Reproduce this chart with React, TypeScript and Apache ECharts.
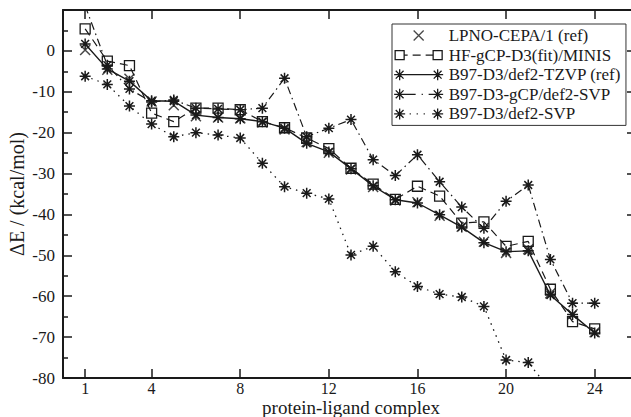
import React, { useEffect, useRef } from "react";
import * as echarts from "echarts";

const complexes = [1, 2, 3, 4, 5, 6, 7, 8, 9, 10, 11, 12, 13, 14, 15, 16, 17, 18, 19, 20, 21, 22, 23, 24];
const xTicks = [1, 4, 8, 12, 16, 20, 24];
const seriesNames = [
  "LPNO-CEPA/1 (ref)",
  "HF-gCP-D3(fit)/MINIS",
  "B97-D3/def2-TZVP (ref)",
  "B97-D3-gCP/def2-SVP",
  "B97-D3/def2-SVP",
];
const lpno = [0.2, -4.6, -6.8, -12.4, -13.3, -16.0, -16.3, -16.5, -17.5, -19.2, -22.3, -24.9, -29.0, -33.3, -36.6, -37.0, -40.3, -43.0, -46.7, -49.4, -48.5, -59.3, -64.4, -68.8];
const hfMinis = [5.4, -2.5, -3.6, -15.2, -17.3, -14.0, -14.0, -14.4, -17.3, -18.8, -21.3, -23.9, -28.7, -32.6, -36.3, -33.1, -35.5, -42.1, -41.8, -47.8, -46.6, -58.3, -66.2, -68.0];
const b97Tzvp = [1.7, -4.4, -7.4, -12.2, -12.3, -15.7, -16.3, -16.6, -17.3, -18.9, -22.6, -24.7, -28.8, -33.0, -36.4, -37.2, -40.1, -43.1, -46.9, -49.1, -48.9, -59.7, -64.5, -69.0];
const b97GcpSvp = [11.0, -3.5, -9.3, -12.5, -12.0, -14.0, -14.2, -14.4, -14.0, -6.7, -21.0, -18.9, -16.8, -26.6, -30.5, -25.4, -32.0, -38.2, -43.4, -36.8, -32.8, -51.0, -61.7, -61.7];
const b97Svp = [-6.2, -8.2, -13.5, -17.9, -21.0, -20.0, -20.6, -21.3, -27.5, -33.2, -34.8, -36.2, -49.9, -47.8, -54.0, -57.6, -59.5, -60.2, -62.5, -75.6, -76.2, -83.0, null, null];

const INK = "#1a1a1a";
const FONT = "'Liberation Serif', 'Times New Roman', serif";

const STAR = "path://M6,0L6,12M0,6L12,6M1.76,1.76L10.24,10.24M10.24,1.76L1.76,10.24";
const CROSS = "path://M0,0L10,10M10,0L0,10";
const SQUARE = "path://M0,0L10,0L10,10L0,10Z";

const star = (cx: number) =>
  `M${cx},0.5L${cx},11.5M${cx - 5.5},6L${cx + 5.5},6M${cx - 3.9},2.1L${cx + 3.9},9.9M${cx + 3.9},2.1L${cx - 3.9},9.9`;
const sq = (cx: number) => `M${cx - 4.5},1.5L${cx + 4.5},1.5L${cx + 4.5},10.5L${cx - 4.5},10.5Z`;
const BOX = "M0,0M50,12";

const legendIcons = [
  `path://${BOX}M20,1L30,11M30,1L20,11`,
  `path://${BOX}${sq(6)}${sq(44)}M10.5,6L14,6M19,6L27,6M32,6L39.5,6`,
  `path://${BOX}${star(6)}${star(44)}M6,6L44,6`,
  `path://${BOX}${star(6)}${star(44)}M11,6L22,6M28,6L29.2,6M35,6L39,6`,
  `path://${BOX}${star(6)}${star(44)}M16,6L17.2,6M23,6L24.2,6M30,6L31.2,6`,
];

const pairs = (ys: (number | null)[]) => complexes.map((x, i) => [x, ys[i]]);

export default function App() {
  const ref = useRef<HTMLDivElement>(null);
  useEffect(() => {
    if (!ref.current) return;
    const chart = echarts.init(ref.current, undefined, { renderer: "svg" });
    const symStyle = { color: "transparent", borderColor: INK, borderWidth: 1.5 };
    const axisCommonX = {
      type: "value" as const,
      min: 0,
      max: 26,
      splitLine: { show: false },
      axisLine: { show: true, onZero: false, lineStyle: { color: INK, width: 2 } },
      axisTick: { show: true, inside: true, length: 9, customValues: xTicks, lineStyle: { color: INK, width: 1.5 } },
    };
    const axisCommonY = {
      type: "value" as const,
      min: -80,
      max: 10,
      interval: 10,
      splitLine: { show: false },
      minorSplitLine: { show: false },
      axisLine: { show: true, onZero: false, lineStyle: { color: INK, width: 2 } },
      minorTick: { show: true, splitNumber: 2, length: 5, lineStyle: { color: INK, width: 1.5 } },
    };
    chart.setOption({
      animation: false,
      backgroundColor: "#ffffff",
      grid: { left: 63, top: 10, width: 576, height: 368, containLabel: false, outerBoundsMode: "none" },
      legend: {
        orient: "vertical",
        left: 392,
        top: 24,
        padding: [3, 5, 3, 1],
        itemGap: 2.6,
        itemWidth: 50,
        itemHeight: 12,
        backgroundColor: "#ffffff",
        borderColor: "#333",
        borderWidth: 1,
        selectedMode: false,
        itemStyle: { color: "transparent", borderColor: INK, borderWidth: 1.3 },
        textStyle: { fontFamily: FONT, fontSize: 17, color: INK, lineHeight: 17 },
        data: seriesNames.map((n, i) => ({ name: n, icon: legendIcons[i] })),
      },
      xAxis: [
        {
          ...axisCommonX,
          position: "bottom",
          name: "protein-ligand complex",
          nameLocation: "middle",
          nameGap: 20,
          nameMoveOverlap: false,
          nameTextStyle: { fontFamily: FONT, fontSize: 19, color: INK, lineHeight: 18 },
          axisLabel: { customValues: xTicks, fontFamily: FONT, fontSize: 16, color: INK, margin: 2, lineHeight: 16 },
        },
        {
          ...axisCommonX,
          position: "top",
          axisLabel: { show: false },
        },
      ],
      yAxis: [
        {
          ...axisCommonY,
          position: "left",
          axisTick: { show: true, inside: true, length: 9, lineStyle: { color: INK, width: 1.5 } },
          name: "ΔE / (kcal/mol)",
          nameLocation: "middle",
          nameGap: 36,
          nameMoveOverlap: false,
          nameTextStyle: { fontFamily: FONT, fontSize: 20, color: INK },
          axisLabel: {
            fontFamily: FONT,
            fontSize: 17,
            color: INK,
            margin: 8,
            formatter: (v: number) => (v > 0 ? "" : String(v)),
          },
        },
        {
          ...axisCommonY,
          position: "right",
          axisTick: { show: true, inside: true, length: 12, lineStyle: { color: INK, width: 1.5 } },
          axisLabel: { show: false },
        },
      ],
      series: [
        {
          name: seriesNames[1],
          type: "line",
          data: pairs(hfMinis),
          symbol: SQUARE,
          symbolSize: 10,
          itemStyle: { ...symStyle, borderWidth: 1.3 },
          lineStyle: { color: INK, width: 1.2, type: [8, 5] },
          z: 2,
        },
        {
          name: seriesNames[3],
          type: "line",
          data: pairs(b97GcpSvp),
          symbol: STAR,
          symbolSize: 11,
          itemStyle: symStyle,
          lineStyle: { color: INK, width: 1.2, type: [8, 4, 1.5, 4] },
          z: 3,
        },
        {
          name: seriesNames[4],
          type: "line",
          data: pairs(b97Svp),
          symbol: STAR,
          symbolSize: 11,
          itemStyle: symStyle,
          lineStyle: { color: INK, width: 1.3, type: [1.5, 5] },
          z: 3,
        },
        {
          name: seriesNames[2],
          type: "line",
          data: pairs(b97Tzvp),
          symbol: STAR,
          symbolSize: 11,
          itemStyle: symStyle,
          lineStyle: { color: INK, width: 1.4, type: "solid" },
          z: 4,
        },
        {
          name: seriesNames[0],
          type: "scatter",
          data: pairs(lpno),
          symbol: CROSS,
          symbolSize: 10,
          itemStyle: symStyle,
          z: 5,
        },
      ],
    });
    return () => chart.dispose();
  }, []);
  return (
    <div
      ref={ref}
      style={{ position: "fixed", left: 0, top: 0, width: 631, height: 417, background: "#fff" }}
    />
  );
}
